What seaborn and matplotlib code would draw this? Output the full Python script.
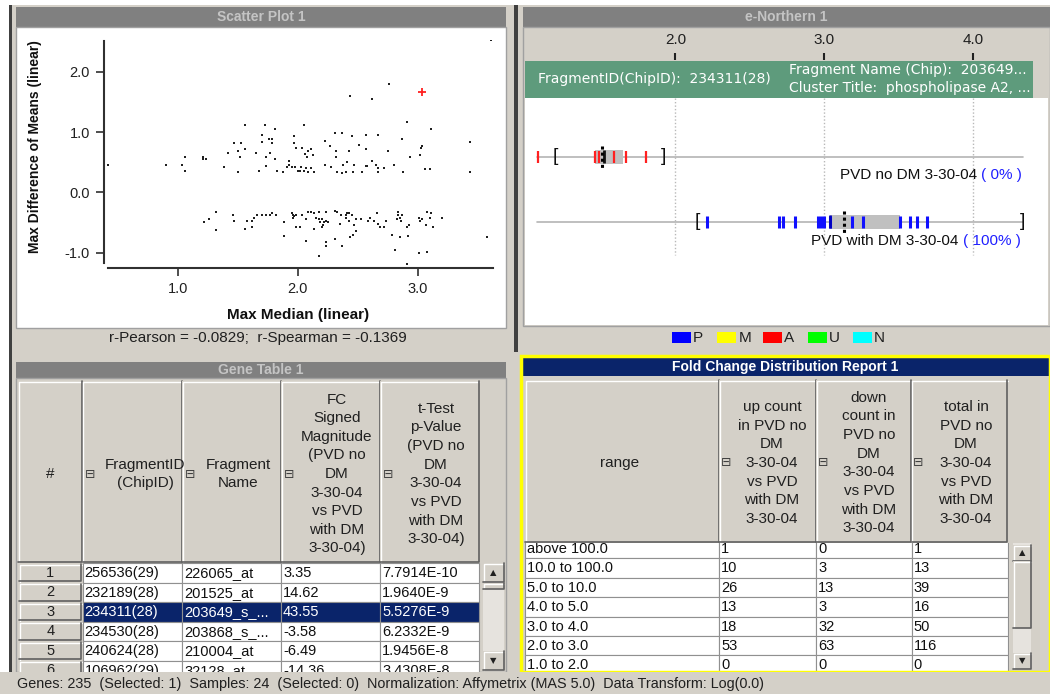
import matplotlib
matplotlib.use("Agg")
import matplotlib.pyplot as plt
from matplotlib.patches import Rectangle
import seaborn as sns
import pandas as pd

# ---- scatter data (Max Median vs Max Difference of Means) ----
median_x = [3.61, 2.76, 2.44, 2.62, 2.91, 1.56, 2.05, 1.81, 3.11, 1.70, 1.97, 2.31, 2.37, 2.45,
            2.57, 2.67, 1.76, 1.79, 2.87, 3.44, 1.47, 1.53, 1.70, 1.79, 1.97, 2.23, 2.51, 2.27,
            1.99, 2.04, 2.11, 1.56, 3.03, 3.04, 1.50, 1.65, 1.42, 1.77, 2.09, 2.06, 2.32, 2.43,
            2.57, 2.75, 2.13, 2.08, 1.52, 1.74, 1.81, 2.32, 2.94, 3.02, 1.06, 1.21, 1.21, 1.24,
            0.42, 0.90, 1.04, 1.39, 1.74, 1.93, 1.93, 1.91, 1.95, 1.98, 2.03, 2.07, 2.11, 2.23,
            2.28, 2.38, 2.41, 2.47, 2.57, 2.58, 2.62, 2.65, 2.67, 2.72, 2.80, 3.06, 3.10, 3.44,
            1.06, 1.68, 1.83, 1.88, 2.00, 2.02, 2.05, 2.09, 2.14, 2.37, 2.40, 2.46, 2.54, 2.67,
            2.88, 2.33, 1.50, 1.73,
            1.32, 1.22, 1.26, 1.32, 1.46, 1.47, 1.56, 1.58, 1.62, 1.62, 1.64, 1.66, 1.70, 1.74,
            1.77, 1.79, 1.82, 1.89, 1.89, 1.95, 1.96, 1.97, 1.96, 1.99, 1.99, 2.02, 2.04, 2.07,
            2.07, 2.09, 2.11, 2.14, 2.14, 2.18, 2.15, 2.18, 2.20, 2.19, 2.22, 2.24, 2.25, 2.21,
            2.20, 2.24, 2.24, 2.24, 2.18, 2.31, 2.33, 2.36, 2.35, 2.37, 2.31, 2.40, 2.41, 2.43,
            2.45, 2.40, 2.43, 2.47, 2.49, 2.46, 2.44, 2.49, 2.53, 2.59, 2.64, 2.66, 2.67, 2.69,
            2.72, 2.74, 2.60, 2.79, 2.81, 2.84, 2.85, 2.84, 2.87, 2.86, 2.83, 2.91, 2.93, 2.92,
            2.85, 2.91, 3.01, 3.02, 3.04, 3.08, 3.11, 3.10, 3.07, 3.13, 3.20, 3.01, 3.08, 3.58]
diff_y = [2.52, 1.80, 1.59, 1.55, 1.16, 1.11, 1.11, 1.05, 1.05, 0.95, 0.93, 0.99, 0.99, 0.93,
          0.95, 0.95, 0.89, 0.89, 0.88, 0.83, 0.82, 0.82, 0.83, 0.82, 0.82, 0.85, 0.79, 0.77,
          0.74, 0.74, 0.72, 0.72, 0.73, 0.77, 0.68, 0.65, 0.65, 0.65, 0.68, 0.64, 0.68, 0.68,
          0.72, 0.69, 0.62, 0.59, 0.58, 0.58, 0.55, 0.58, 0.59, 0.62, 0.59, 0.59, 0.55, 0.55,
          0.46, 0.46, 0.46, 0.42, 0.44, 0.52, 0.46, 0.42, 0.42, 0.42, 0.42, 0.40, 0.40, 0.46,
          0.42, 0.46, 0.50, 0.46, 0.44, 0.44, 0.52, 0.46, 0.40, 0.40, 0.46, 0.38, 0.38, 0.34,
          0.36, 0.36, 0.36, 0.34, 0.36, 0.36, 0.36, 0.34, 0.34, 0.32, 0.34, 0.34, 0.34, 0.34,
          0.34, 0.34, 0.34, 1.11,
          -0.33, -0.50, -0.44, -0.62, -0.38, -0.48, -0.60, -0.48, -0.48, -0.57, -0.43, -0.37, -0.38, -0.38,
          -0.37, -0.34, -0.38, -0.50, -0.72, -0.34, -0.37, -0.40, -0.43, -0.38, -0.58, -0.58, -0.38, -0.44,
          -0.80, -0.33, -0.33, -0.34, -0.60, -0.33, -0.43, -0.44, -0.44, -0.50, -0.50, -0.48, -0.50, -0.54,
          -0.57, -0.33, -0.82, -0.89, -1.05, -0.31, -0.33, -0.37, -0.53, -0.89, -0.77, -0.37, -0.34, -0.34,
          -0.38, -0.43, -0.48, -0.54, -0.64, -0.70, -0.74, -0.44, -0.44, -0.48, -0.48, -0.34, -0.53, -0.58,
          -0.57, -0.48, -0.43, -0.70, -0.95, -0.33, -0.43, -0.37, -0.37, -0.48, -0.44, -0.58, -0.54, -0.72,
          -0.74, -1.19, -0.43, -0.48, -0.44, -0.33, -0.34, -0.43, -0.54, -0.58, -0.43, -1.00, -0.99, -0.74]
selected_x = [3.04]
selected_y = [1.66]
scatter_xticks = [1.0, 2.0, 3.0]
scatter_yticks = [-1.0, 0.0, 1.0, 2.0]

# ---- e-Northern data ----
northern_ticks = [2.0, 3.0, 4.0]
group_names = ["PVD no DM 3-30-04", "PVD with DM 3-30-04"]
group_pct = ["( 0% )", "( 100% )"]
group_call_color = ["#ff2020", "#1010ff"]
group_calls = [[1.075, 1.460, 1.489, 1.588, 1.668, 1.803],
               [2.215, 2.700, 2.726, 2.805, 2.962, 2.980, 2.998, 3.040, 3.186, 3.260,
                3.511, 3.578, 3.623, 3.695]]
group_selected = [1.523, 3.040]
group_q1 = [1.460, 3.040]
group_q3 = [1.649, 3.511]
group_median = [1.509, 3.137]
group_lo = [1.191, 2.151]
group_hi = [1.919, 4.334]
call_codes = ["P", "M", "A", "U", "N"]
call_colors = ["#0000ff", "#ffff00", "#ff0000", "#00ff00", "#00ffff"]

# ---- gene table ----
gene_cols = ["#", "FragmentID\n(ChipID)", "Fragment\nName",
             "FC\nSigned\nMagnitude\n(PVD no\nDM\n3-30-04\nvs PVD\nwith DM\n3-30-04)",
             "t-Test\np-Value\n(PVD no\nDM\n3-30-04\nvs PVD\nwith DM\n3-30-04)"]
gene_ids = ["256536(29)", "232189(28)", "234311(28)", "234530(28)", "240624(28)", "106962(29)"]
gene_names = ["226065_at", "201525_at", "203649_s_...", "203868_s_...", "210004_at", "32128_at"]
gene_fc = ["3.35", "14.62", "43.55", "-3.58", "-6.49", "-14.36"]
gene_p = ["7.7914E-10", "1.9640E-9", "5.5276E-9", "6.2332E-9", "1.9456E-8", "3.4308E-8"]
gene_selected_row = 2

# ---- fold change report ----
fold_cols = ["range",
             "up count\nin PVD no\nDM\n3-30-04\nvs PVD\nwith DM\n3-30-04",
             "down\ncount in\nPVD no\nDM\n3-30-04\nvs PVD\nwith DM\n3-30-04",
             "total in\nPVD no\nDM\n3-30-04\nvs PVD\nwith DM\n3-30-04"]
fold_range = ["above 100.0", "10.0 to 100.0", "5.0 to 10.0", "4.0 to 5.0",
              "3.0 to 4.0", "2.0 to 3.0", "1.0 to 2.0"]
fold_up = [1, 10, 26, 13, 18, 53, 0]
fold_down = [0, 3, 13, 3, 32, 63, 0]
fold_total = [1, 13, 39, 16, 50, 116, 0]

status_text = ("Genes: 235  (Selected: 1)  Samples: 24  (Selected: 0)  "
               "Normalization: Affymetrix (MAS 5.0)  Data Transform: Log(0.0)")

sns.set_theme(style="white")
plt.rcParams["font.family"] = ["Liberation Sans", "DejaVu Sans"]

W, H = 1050, 694
GRAY = "#d4d0c8"
DARK = "#808080"
NAVY = "#0a246a"
fig = plt.figure(figsize=(10.5, 6.94), dpi=100, facecolor=GRAY)

ui = fig.add_axes([0, 0, 1, 1])
ui.set_xlim(0, W)
ui.set_ylim(H, 0)
ui.axis("off")
ui.set_zorder(0)


def box(x0, y0, x1, y1, fc, ec="none", lw=0, z=1):
    p = Rectangle((x0, y0), x1 - x0, y1 - y0, facecolor=fc,
                  edgecolor=ec, linewidth=lw, zorder=z)
    ui.add_patch(p)
    return p


def bevel(x0, y0, x1, y1, z=5, fc=GRAY):
    p = box(x0, y0, x1, y1, fc, z=z)
    ui.plot([x0 + 0.5, x0 + 0.5, x1], [y1, y0 + 0.5, y0 + 0.5], color="white", lw=1, zorder=z)
    ui.plot([x0, x1 - 0.5, x1 - 0.5], [y1 - 0.5, y1 - 0.5, y0], color="#606060", lw=1.2, zorder=z)
    return p


def px_axes(x0, y0, x1, y1):
    return fig.add_axes([x0 / W, 1 - y1 / H, (x1 - x0) / W, (y1 - y0) / H])


# window chrome
box(0, 0, W, 5, "white")
box(0, 0, 9, 672, "white")
box(9, 5, 12, 672, "#404040")
box(514, 5, 518, 352, "#404040")

# ---------------- Scatter Plot ----------------
box(16, 7, 506, 27, DARK)
ui.text(261, 17, "Scatter Plot 1", color="#c4c4c4", fontsize=10, fontweight="bold",
        ha="center", va="center", zorder=3)
box(16, 27, 506, 328, "white", ec="#a0a0a0", lw=1)
ui.text(258, 338, "r-Pearson = -0.0829;  r-Spearman = -0.1369", fontsize=11,
        ha="center", va="center", color="#202020", zorder=3)

ax = px_axes(104, 40, 493, 268)
ax.set_facecolor("none")
scat = pd.DataFrame({"Max Median (linear)": median_x, "Max Difference of Means (linear)": diff_y})
sns.scatterplot(data=scat, x="Max Median (linear)", y="Max Difference of Means (linear)",
                ax=ax, s=3, marker="s", color="#202020", linewidth=0, legend=False)
ax.scatter(selected_x, selected_y, marker="+", s=40, color="#ff2020", linewidths=1.3, zorder=5)
ax.set_xlim(0.386, 3.628)
ax.set_ylim(-1.255, 2.526)
ax.set_xticks(scatter_xticks)
ax.set_xticklabels([f"{v:.1f}" for v in scatter_xticks])
ax.set_yticks(scatter_yticks)
ax.set_yticklabels([f"{v:.1f}" for v in scatter_yticks])
ax.tick_params(axis="both", direction="out", length=6, width=1.2, color="#303030",
               labelsize=10.5, labelcolor="#202020", left=True, bottom=True, pad=4)
for s in ["top", "right"]:
    ax.spines[s].set_visible(False)
for s in ["left", "bottom"]:
    ax.spines[s].set_color("#303030")
    ax.spines[s].set_linewidth(1.5)
ax.spines["left"].set_bounds(-1.17, 2.51)
ax.spines["bottom"].set_bounds(0.42, 3.625)
ax.set_xlabel("Max Median (linear)", fontsize=11, fontweight="bold", color="#101010")
ax.set_ylabel("Max Difference of Means (linear)", fontsize=10, fontweight="bold", color="#101010")
ax.xaxis.set_label_coords(0.499, -0.175)
ax.yaxis.set_label_coords(-0.160, 0.532)

# ---------------- e-Northern ----------------
box(523, 7, 1050, 27, DARK)
ui.text(786, 17, "e-Northern 1", color="#c4c4c4", fontsize=10, fontweight="bold",
        ha="center", va="center", zorder=3)
box(523, 27, 1050, 326, GRAY, ec="#a0a0a0", lw=1)
box(525, 61, 1033, 98, "#5e9b7c")
box(525, 98, 1048, 325, "white")
ui.text(538, 79, "FragmentID(ChipID):  234311(28)", color="white", fontsize=10,
        family="DejaVu Sans", va="center", zorder=3)
ui.text(789, 70, "Fragment Name (Chip):  203649...", color="white", fontsize=10,
        family="DejaVu Sans", va="center", zorder=3)
ui.text(789, 88, "Cluster Title:  phospholipase A2, ...", color="white", fontsize=10,
        family="DejaVu Sans", va="center", zorder=3)

rul = px_axes(525, 27, 1048, 60)
rul.set_facecolor("none")
rul.axis("off")
rul.set_xlim(0.989, 4.506)
rul.set_ylim(0, 1)
rul.vlines(northern_ticks, 0, 0.2, color="#202020", lw=1.5)
for t in northern_ticks:
    rul.text(t, 0.6, f"{t:.1f}", ha="center", va="center", fontsize=11, color="#202020")

en = px_axes(525, 98, 1048, 325)
en.set_facecolor("none")
en.axis("off")
en.set_xlim(0.989, 4.506)
en.set_ylim(2.589, -0.903)
en.vlines(northern_ticks, -0.903, 1.512, color="#b8b8b8", lw=1, linestyles=(0, (1, 1.5)))
for i in range(len(group_names)):
    en.plot([1.072, 4.34], [i, i], color="#b4b4b4", lw=1.2, zorder=1)
    en.add_patch(Rectangle((group_q1[i], i - 0.11), group_q3[i] - group_q1[i], 0.22,
                           facecolor="#c0c0c0", edgecolor="none", zorder=2))
    en.vlines(group_calls[i], i - 0.09, i + 0.09, color=group_call_color[i],
              lw=1.6 if i == 0 else 2.2, zorder=3)
    en.vlines([group_selected[i]], i - 0.1, i + 0.1, color="#101010" if i == 0 else "#0000c0",
              lw=2, zorder=4)
    en.vlines([group_median[i]], i - 0.17, i + 0.17, color="black", lw=2.2,
              linestyles=(0, (1, 1)), zorder=5)
    en.text(group_lo[i], i, "[", ha="center", va="center", fontsize=14, color="#101010", zorder=4)
    en.text(group_hi[i], i, "]", ha="center", va="center", fontsize=14, color="#101010", zorder=4)
label_x = [4.027, 3.903]
label_y = [0.28, 1.29]
for i in range(len(group_names)):
    en.text(label_x[i], label_y[i], group_names[i], ha="right", va="center", fontsize=11,
            color="#101010")
    en.text(label_x[i] + 0.03, label_y[i], group_pct[i], ha="left", va="center", fontsize=11,
            color="#2020ff")

# legend of call codes
for k, (code, col) in enumerate(zip(call_codes, call_colors)):
    x0 = 672 + k * 45.3
    box(x0, 332, x0 + 19, 343, col, z=3)
    ui.text(x0 + 21, 338, code, fontsize=11, va="center", ha="left", color="#202020", zorder=3)

# ---------------- Gene Table ----------------
box(16, 362, 506, 378, DARK)
ui.text(261, 370, "Gene Table 1", color="#c4c4c4", fontsize=10, fontweight="bold",
        ha="center", va="center", zorder=3)
box(16, 378, 506, 672, GRAY, ec="#a0a0a0", lw=1)
gx = [18, 82.5, 182, 281, 380, 479]
hdr_cx = [50, 145, 238, 337, 436]
for j, name in enumerate(gene_cols):
    cell = bevel(gx[j], 381, gx[j + 1], 562)
    t = ui.text(hdr_cx[j], 474, name, ha="center", va="center", fontsize=11, linespacing=1.42,
                color="#202020", zorder=6, multialignment="center")
    t.set_clip_path(cell)
    if j > 0:
        ui.text(gx[j] + 8, 474, "\u229f", ha="center", va="center", fontsize=9,
                family="DejaVu Sans", color="#404040", zorder=6)
row_h = 19.5
for r in range(len(gene_ids)):
    y0 = 563 + r * row_h
    bevel(gx[0] + 1, y0 + 1, gx[1] - 1, y0 + row_h - 1, z=3)
    ui.text((gx[0] + gx[1]) / 2, y0 + row_h / 2, str(r + 1), ha="center", va="center",
            fontsize=10.5, color="#202020", zorder=4)
    sel = r == gene_selected_row
    vals = [gene_ids[r], gene_names[r], gene_fc[r], gene_p[r]]
    for j, v in enumerate(vals):
        box(gx[j + 1], y0, gx[j + 2], y0 + row_h, NAVY if sel else "white",
            ec="#909090", lw=0.8, z=3)
        ui.text(gx[j + 1] + 2, y0 + row_h / 2 + 0.5, v, ha="left", va="center", fontsize=10.5,
                color="white" if sel else "#101010", zorder=4)
# scrollbar
box(483, 563, 504, 671, "#e6e3de", z=3)
bevel(483, 563, 504, 582)
ui.text(493.5, 572.5, "\u25b2", fontsize=6, ha="center", va="center", family="DejaVu Sans",
        color="#202020", zorder=6)
bevel(483, 583, 504, 589)
bevel(483, 651, 504, 670)
ui.text(493.5, 660.5, "\u25bc", fontsize=6, ha="center", va="center", family="DejaVu Sans",
        color="#202020", zorder=6)

# ---------------- Fold Change Distribution Report ----------------
fx = [525, 719, 816, 911.5, 1007.5]
fold_hdr_cx = [620, 772, 869, 966]
frow_h = 19.4
ftop = 558.3 - frow_h - 4
for r in range(len(fold_range)):
    y0 = ftop + r * frow_h + (4 if r > 0 else 0)
    h = frow_h + (4 if r == 0 else 0)
    vals = [fold_range[r], str(fold_up[r]), str(fold_down[r]), str(fold_total[r])]
    for j, v in enumerate(vals):
        box(fx[j], y0, fx[j + 1], y0 + h, "white", ec="#909090", lw=0.8, z=3)
        ui.text(fx[j] + 2, y0 + h - frow_h / 2 + 0.5, v, ha="left", va="center", fontsize=10.5,
                color="#101010", zorder=4)
box(520, 376, 1050, 543, GRAY, z=4)
for j, name in enumerate(fold_cols):
    bevel(fx[j], 380, fx[j + 1], 542)
    ui.text(fold_hdr_cx[j], 463, name, ha="center", va="center", fontsize=11, linespacing=1.42,
            color="#202020", zorder=6, multialignment="center")
    if j > 0:
        ui.text(fx[j] + 7, 462, "\u229f", ha="center", va="center", fontsize=9,
                family="DejaVu Sans", color="#404040", zorder=6)
box(1009, 543, 1048, 671, GRAY, z=4)
box(1013, 543, 1031, 670, "#e6e3de", z=5)
bevel(1013, 545, 1031, 561, z=6)
ui.text(1022, 553, "\u25b2", fontsize=6, ha="center", va="center", family="DejaVu Sans",
        color="#202020", zorder=7)
bevel(1013, 561, 1031, 628, z=6)
bevel(1013, 653, 1031, 669, z=6)
ui.text(1022, 661, "\u25bc", fontsize=6, ha="center", va="center", family="DejaVu Sans",
        color="#202020", zorder=7)
box(521, 358, 1049, 376, NAVY, z=6)
ui.text(785, 367, "Fold Change Distribution Report 1", color="white", fontsize=10,
        fontweight="bold", ha="center", va="center", zorder=7)
box(520.5, 355.5, 1049.5, 671.5, "none", ec="#ffff00", lw=2.5, z=8)

# status bar
box(0, 672, W, H, GRAY, z=10)
ui.text(17, 684, status_text, fontsize=10.35, ha="left", va="center", color="#202020", zorder=11)

fig.savefig("out.png", dpi=100, facecolor=GRAY)
